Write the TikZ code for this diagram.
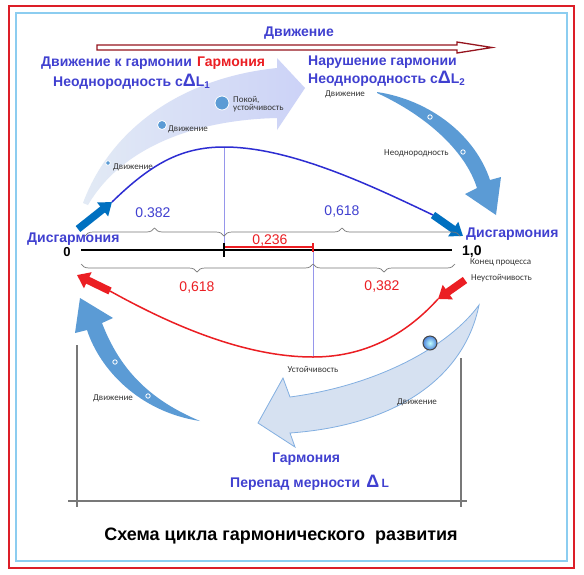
\documentclass[tikz,border=0pt]{standalone}
\usepackage{fontspec}
\setmainfont{Liberation Sans}
\newfontfamily\smallf{Carlito}
\usetikzlibrary{arrows.meta,decorations.pathreplacing,shadings}
\definecolor{tblue}{RGB}{64,64,208}
\definecolor{cblue}{RGB}{45,45,210}
\definecolor{vline}{RGB}{150,150,235}
\definecolor{tred}{RGB}{235,30,35}
\definecolor{aBlue}{RGB}{91,155,213}
\definecolor{dBlue}{RGB}{0,112,192}
\definecolor{lband}{RGB}{214,225,241}
\definecolor{lbandE}{RGB}{130,175,225}
\definecolor{gline}{RGB}{120,120,120}
\definecolor{bred}{RGB}{220,30,40}
\definecolor{bcyan}{RGB}{140,205,240}
\definecolor{mroon}{RGB}{150,20,30}
\newcommand{\DLt}[1]{{\fontsize{18}{18}\selectfont Δ}L\textsubscript{#1}}
\begin{document}
\begin{tikzpicture}[x=1pt,y=-1pt,
  lbl/.style={font=\fontsize{14}{16}\selectfont\bfseries, text=tblue, inner sep=0pt},
  sm/.style={font=\smallf\fontsize{9}{9.5}\selectfont, text=black!80, inner sep=0pt},
  num/.style={font=\fontsize{14}{16}\selectfont, inner sep=0pt},
  fat/.style={line width=7.5pt, -{Triangle[length=12pt,width=17pt]}},
  brc/.style={gline, line width=0.7pt, decorate, decoration={brace, amplitude=8pt}},
  brcm/.style={gline, line width=0.7pt, decorate, decoration={brace, amplitude=8pt, mirror}},
  dotw/.style={draw=white, line width=0.8pt},
  gl/.style={gline, line width=1.2pt}]
\useasboundingbox (0,0) rectangle (584,574);
\fill[white] (0,0) rectangle (584,574);
\draw[bred, line width=1.2pt] (9,6) rectangle (574,568);
\draw[bcyan, line width=1.2pt] (16,13) rectangle (567,561);

% top movement arrow
\draw[mroon, line width=1.3pt, fill=white] (97,45) -- (457,45) -- (457,42) -- (492,47.5) -- (457,53) -- (457,50) -- (97,50) -- cycle;
\node[lbl, anchor=base] (mv) at (299,36) {Движение};

% top-left light arrow
\shade[left color=lband!70!white, right color=lband!85!blue!70!white]
  (83,203) .. controls (110,130) and (180,78) .. (277,68) -- (277,58) -- (305,88) -- (277,130) -- (277,118)
  .. controls (190,120) and (120,150) .. (88,205) -- cycle;
\fill[aBlue, draw=white, line width=0.8pt] (108,163) circle (2.3);
\fill[aBlue, draw=white, line width=0.8pt] (162,125) circle (4.5);
\fill[aBlue, draw=white, line width=0.8pt] (222,103) circle (7);
\node[sm, anchor=base west] (m1) at (113,169) {Движение};
\node[sm, anchor=base west] (m2) at (168,131) {Движение};
\node[sm, anchor=base west, align=left] (pk) at (233,110) {Покой,\\[-1.5pt]устойчивость};

% top-right blue arrow
\fill[aBlue] (377,92) .. controls (430,100) and (475,135) .. (490,180) -- (501,177) -- (496,215) -- (465,194) -- (477,188)
  .. controls (465,150) and (425,115) .. (377,93) -- cycle;
\draw[dotw] (430,117) circle (2.2);
\draw[dotw] (463,152) circle (2.2);
\node[sm, anchor=base west] (m3) at (325,96) {Движение};
\node[sm, anchor=base west] (nd) at (384,155) {Неоднородность};

% bottom-left blue arrow
\fill[aBlue] (80,298) -- (113,318) -- (102,323) .. controls (120,370) and (150,400) .. (200,421)
  .. controls (140,412) and (100,370) .. (87,330) -- (75,333) -- cycle;
\draw[dotw] (115,362) circle (2.2);
\draw[dotw] (148,396) circle (2.2);
\node[sm, anchor=base west] (m4) at (93,400) {Движение};

% bottom light arrow
\filldraw[fill=lband, draw=lbandE, line width=0.8pt]
  (479,305) .. controls (450,345) and (380,385) .. (290,397) -- (283,378) -- (258,423) -- (295,447) -- (290,433)
  .. controls (400,425) and (465,375) .. (479,305) -- cycle;
\shade[inner color=cyan!25!white, outer color=aBlue!85!blue] (430,343) circle (7);
\draw[gray!55!black, line width=1pt] (430,343) circle (7);
\node[sm, anchor=base west] (m5) at (397,404) {Движение};
\node[sm, anchor=base] (ust) at (313,372) {Устойчивость};

% bottom frame lines
\draw[gl] (77,345) -- (77,507);
\draw[gl] (68,501) -- (467,501);
\draw[gl] (461,358) -- (461,507);

% vertical guide lines
\draw[vline, line width=1pt] (224,147) -- (224,248);
\draw[vline, line width=1pt] (313,248) -- (313,357);

% blue harmony curve
\coordinate (b0) at (78,229);
\coordinate (b1) at (112,202);
\coordinate (bp) at (224,147);
\coordinate (b2) at (433,215);
\coordinate (b3) at (463,236);
\draw[cblue, line width=1.5pt] (b1) .. controls (150,165) and (180,147) .. (bp) .. controls (290,147) and (370,185) .. (b2);
\draw[fat, dBlue] (b0) -- (b1);
\draw[fat, dBlue] (b2) -- (b3);

% red curve
\coordinate (r0) at (110,291);
\coordinate (r1) at (77,275);
\coordinate (rm) at (313,357);
\coordinate (r2) at (438,299);
\coordinate (r3) at (465,280);
\draw[tred, line width=1.5pt] (r0) .. controls (180,330) and (250,357) .. (rm) .. controls (370,357) and (410,330) .. (r2);
\draw[fat, tred] (r0) -- (r1);
\draw[fat, tred] (r3) -- (r2);

% axis
\draw[black, line width=2pt] (81,250) -- (452,250);
\draw[tred, line width=1.6pt] (224,247) -- (313,247);
\draw[tred, line width=1.2pt] (313,243) -- (313,252);
\draw[black, line width=2pt] (224,243) -- (224,257);

% braces
\draw[brc] (85,236) -- (224,236);
\draw[brc] (224,236) -- (460,236);
\draw[brcm] (81,264) -- (313,264);
\draw[brcm] (313,264) -- (455,264);

% numbers
\node[num, text=tblue, anchor=base] (n1) at (153,217) {0.382};
\node[num, text=tblue, anchor=base] (n2) at (342,215) {0,618};
\node[num, text=tred, anchor=base] (n3) at (270,244) {0,236};
\node[num, text=tred, anchor=base] (n4) at (197,291) {0,618};
\node[num, text=tred, anchor=base] (n5) at (382,290) {0,382};
\node[num, font=\fontsize{13}{15}\selectfont\bfseries, anchor=base] (z0) at (67,256) {0};
\node[num, font=\fontsize{14}{16}\selectfont\bfseries, anchor=base west] (z1) at (462,255) {1,0};
\node[sm, anchor=base west] (kp) at (470,264) {Конец процесса};
\node[sm, anchor=base west] (nu) at (471,280) {Неустойчивость};

% side labels
\node[lbl, anchor=base west] (dl) at (27,242) {Дисгармония};
\node[lbl, anchor=base west] (dr) at (466,237) {Дисгармония};

% top labels
\node[lbl, anchor=base west] (dkg) at (41,66) {Движение к гармонии};
\node[lbl, anchor=base west, text=tred] (gar) at (197,66) {Гармония};
\node[lbl, anchor=base west] (nl1) at (53,86) {Неоднородность с\DLt{1}};
\node[lbl, anchor=base west] (ng) at (308,65) {Нарушение гармонии};
\node[lbl, anchor=base west] (nl2) at (308,83) {Неоднородность с\DLt{2}};

% bottom labels
\node[lbl, anchor=base west] (gb) at (272,462) {Гармония};
\node[lbl, anchor=base west] (pm) at (230,487) {Перепад мерности \,{\fontsize{18}{18}\selectfont Δ}\,{\fontsize{12}{12}\selectfont L}};
\node[font=\fontsize{18}{20}\selectfont\bfseries, anchor=base, inner sep=0pt] (title) at (281,540) {Схема цикла гармонического\ \ развития};
\end{tikzpicture}
\end{document}
